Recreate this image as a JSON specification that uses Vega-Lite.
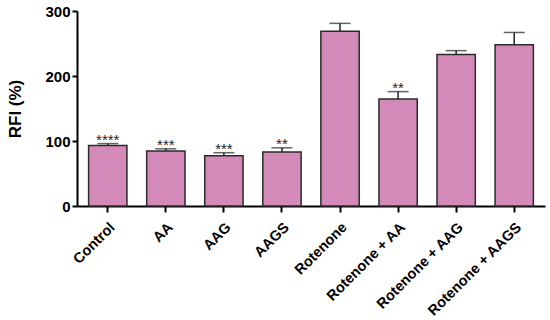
{
  "$schema": "https://vega.github.io/schema/vega-lite/v6.json",
  "width": 468,
  "height": 195,
  "autosize": {"type": "none"},
  "padding": {"left": 77, "top": 11, "right": 5, "bottom": 114},
  "config": {
    "view": {"stroke": null},
    "font": "Liberation Sans",
    "axis": {"grid": false, "domainColor": "#000", "domainWidth": 2, "tickColor": "#000", "tickWidth": 2, "tickSize": 5, "labelColor": "#000", "labelFont": "Liberation Sans", "labelFontWeight": "bold", "titleFont": "Liberation Sans", "titleFontWeight": "bold", "titleColor": "#000"}
  },
  "data": {"values": [
    {"group": "Control", "mean": 93, "upper": 96, "sig": "****"},
    {"group": "AA", "mean": 84.5, "upper": 88, "sig": "***"},
    {"group": "AAG", "mean": 77.5, "upper": 82, "sig": "***"},
    {"group": "AAGS", "mean": 83, "upper": 89.5, "sig": "**"},
    {"group": "Rotenone", "mean": 269, "upper": 281, "sig": ""},
    {"group": "Rotenone + AA", "mean": 164.5, "upper": 176, "sig": "**"},
    {"group": "Rotenone + AAG", "mean": 233, "upper": 239, "sig": ""},
    {"group": "Rotenone + AAGS", "mean": 248, "upper": 267, "sig": ""}
  ]},
  "encoding": {
    "x": {"field": "group", "type": "nominal", "sort": null,
      "scale": {"paddingInner": 0.34, "paddingOuter": 0.2},
      "axis": {"title": null, "labelAngle": -45, "labelFontSize": 14.5, "labelPadding": 8, "tickSize": 6}}
  },
  "layer": [
    {"mark": {"type": "rule", "color": "#222", "strokeWidth": 1.5},
     "encoding": {"y": {"field": "mean", "type": "quantitative"}, "y2": {"field": "upper"}}},
    {"mark": {"type": "tick", "color": "#222", "thickness": 1.5, "size": 21},
     "encoding": {"y": {"field": "upper", "type": "quantitative"}}},
    {"mark": {"type": "bar", "fill": "#D48AB8", "stroke": "#2a2a2a", "strokeWidth": 1.5},
     "encoding": {"y": {"field": "mean", "type": "quantitative",
       "scale": {"domain": [0, 300]},
       "axis": {"title": "RFI (%)", "values": [0, 100, 200, 300], "labelFontSize": 15, "titleFontSize": 17, "titlePadding": 20}}}},
    {"mark": {"type": "text", "baseline": "alphabetic", "dy": 1, "fontSize": 15, "color": "#222"},
     "encoding": {"y": {"field": "upper", "type": "quantitative"}, "text": {"field": "sig"}}}
  ]
}
